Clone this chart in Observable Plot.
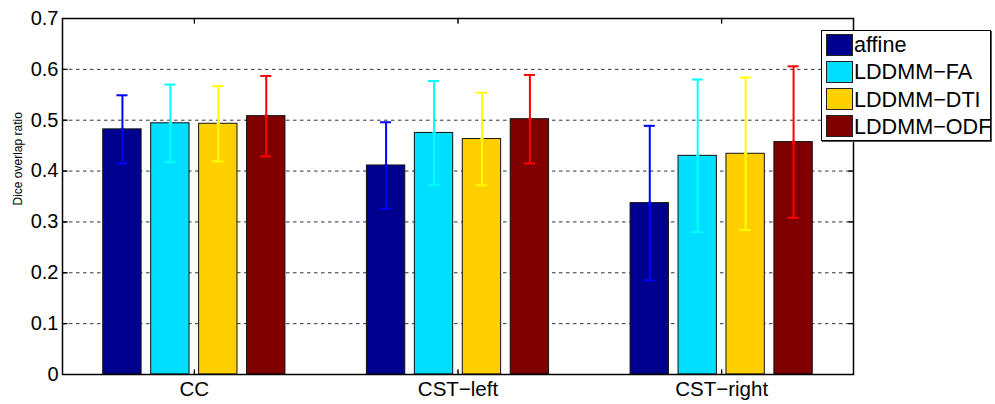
<!DOCTYPE html>
<html>
<head>
<meta charset="utf-8">
<script src="https://cdn.jsdelivr.net/npm/d3@7"></script>
<script src="https://cdn.jsdelivr.net/npm/@observablehq/plot@0.6"></script>
<style>
  html, body { margin: 0; padding: 0; background: #fff; overflow: hidden; width: 995px; height: 404px; }
  #wrap { position: relative; width: 995px; height: 404px; font-family: "Liberation Sans", Arial, sans-serif; }
  #legend { position: absolute; left: 821px; top: 30px; width: 168px; height: 109px; background: #fff;
            border: 1.5px solid #000; box-shadow: 1px 1px 0 #555; overflow: hidden; }
  .row { position: absolute; left: 4px; height: 21px; display: flex; align-items: center; }
  .sw { width: 25px; height: 20px; border: 1px solid #222; box-sizing: content-box; flex: none; }
  .lab { margin-left: 1px; font-size: 21.6px; color: #000; white-space: nowrap; line-height: 21px; }
</style>
</head>
<body>
<div id="wrap"></div>
<script>
// ---- data ----
const categories = ["CC", "CST\u2212left", "CST\u2212right"];
const seriesNames = ["affine", "LDDMM\u2212FA", "LDDMM\u2212DTI", "LDDMM\u2212ODF"];
const meanAffine = [0.482, 0.411, 0.337];
const meanFA     = [0.494, 0.475, 0.430];
const meanDTI    = [0.493, 0.463, 0.434];
const meanODF    = [0.508, 0.502, 0.457];
const errAffine  = [0.067, 0.085, 0.152];
const errFA      = [0.076, 0.102, 0.150];
const errDTI     = [0.074, 0.091, 0.150];
const errODF     = [0.079, 0.087, 0.149];
const yTicks = [0, 0.1, 0.2, 0.3, 0.4, 0.5, 0.6, 0.7];
const yTickLabels = ["0", "0.1", "0.2", "0.3", "0.4", "0.5", "0.6", "0.7"];
const gridTicks = [0.1, 0.2, 0.3, 0.4, 0.5, 0.6];
const yLabel = "Dice overlap ratio";

// ---- styles ----
const barColors = ["#00008F", "#00DFFF", "#FFCF00", "#800000"];
const errColors = ["#0000FF", "#00FFFF", "#FFFF00", "#FF0000"];

const means = [meanAffine, meanFA, meanDTI, meanODF];
const errs = [errAffine, errFA, errDTI, errODF];
const nS = seriesNames.length;
const groupW = Math.min(0.8, nS / (nS + 1.5));
const barW = groupW / nS * 0.8;
const capHalf = 0.021;

const seriesRows = seriesNames.map((s, j) =>
  categories.map((c, i) => ({
    cat: c, series: s,
    x: i + 1 + (j - (nS - 1) / 2) * groupW / nS,
    mean: means[j][i], err: errs[j][i]
  }))
);

const marks = [
  Plot.ruleY(gridTicks, {y: d => d, stroke: "#333", strokeWidth: 1, strokeDasharray: "3.5,3.5"})
];
seriesRows.forEach((rows, j) => {
  marks.push(Plot.rectY(rows, {x1: d => d.x - barW / 2, x2: d => d.x + barW / 2, y1: 0, y2: "mean",
    fill: barColors[j], stroke: "#111", strokeWidth: 1}));
});
seriesRows.forEach((rows, j) => {
  marks.push(Plot.ruleX(rows, {x: "x", y1: d => d.mean - d.err, y2: d => d.mean + d.err, stroke: errColors[j], strokeWidth: 2}));
  marks.push(Plot.ruleY(rows, {y: d => d.mean + d.err, x1: d => d.x - capHalf, x2: d => d.x + capHalf, stroke: errColors[j], strokeWidth: 2}));
  marks.push(Plot.ruleY(rows, {y: d => d.mean - d.err, x1: d => d.x - capHalf, x2: d => d.x + capHalf, stroke: errColors[j], strokeWidth: 2}));
  marks.push(Plot.dot(rows, {x: "x", y: "mean", r: 1.8, fill: errColors[j], stroke: null}));
});
// inward tick marks
marks.push(Plot.vector(yTicks, {y: d => d, frameAnchor: "left", length: 5, rotate: 90, anchor: "start", stroke: "#000", strokeWidth: 1, shape: "spike", r: 0}));
marks.push(Plot.vector(yTicks, {y: d => d, frameAnchor: "right", length: 5, rotate: -90, anchor: "start", stroke: "#000", strokeWidth: 1, shape: "spike", r: 0}));
marks.push(Plot.vector(categories.map((c, i) => i + 1), {x: d => d, frameAnchor: "bottom", length: 5, rotate: 0, anchor: "start", stroke: "#000", strokeWidth: 1, shape: "spike", r: 0}));
marks.push(Plot.vector(categories.map((c, i) => i + 1), {x: d => d, frameAnchor: "top", length: 5, rotate: 180, anchor: "start", stroke: "#000", strokeWidth: 1, shape: "spike", r: 0}));
marks.push(Plot.frame({stroke: "#000", strokeWidth: 1.5}));
marks.push(Plot.axisY(yTicks, {tickSize: 0, tickPadding: 4, fontSize: 20, tickFormat: (d, i) => yTickLabels[i], label: null}));
marks.push(Plot.axisX(categories.map((c, i) => i + 1), {tickSize: 0, tickPadding: 7, fontSize: 20.5, tickFormat: (d, i) => categories[i], label: null}));
marks.push(Plot.text([yLabel], {text: d => d, frameAnchor: "left", dx: -44.5, dy: 9, rotate: -90, fontSize: 12, fill: "#000"}));

const chart = Plot.plot({
  width: 995,
  height: 404,
  marginLeft: 62,
  marginRight: 142,
  marginTop: 18,
  marginBottom: 30,
  style: {background: "#fff", fontFamily: "'Liberation Sans', Arial, sans-serif", color: "#000"},
  x: {type: "linear", domain: [0.5, 3.5], axis: null},
  y: {domain: [0, 0.7], axis: null},
  marks
});
const wrap = document.getElementById("wrap");
wrap.appendChild(chart);

// legend
const legend = document.createElement("div");
legend.id = "legend";
seriesNames.forEach((s, j) => {
  const row = document.createElement("div");
  row.className = "row";
  row.style.top = (3 + j * 27.3) + "px";
  const sw = document.createElement("div");
  sw.className = "sw";
  sw.style.background = barColors[j];
  const lab = document.createElement("span");
  lab.className = "lab";
  lab.textContent = s;
  row.appendChild(sw);
  row.appendChild(lab);
  legend.appendChild(row);
});
wrap.appendChild(legend);
</script>
</body>
</html>
